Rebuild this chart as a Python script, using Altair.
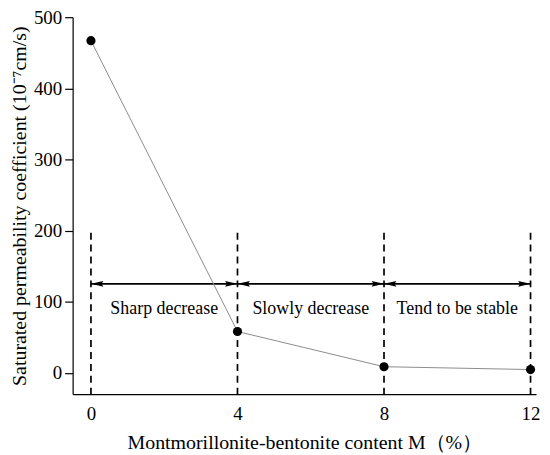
import altair as alt
import pandas as pd

# --- data ---
content = [0, 4, 8, 12]
permeability = [467, 58, 8.5, 4.5]

boundaries = [0, 4, 8, 12]
boundary_top = [197, 197, 197, 197]

stage_start = [0, 4, 8]
stage_end = [4, 8, 12]
stage_mid = [2, 6, 10]
stage_labels = ["Sharp decrease", "Slowly decrease", "Tend to be stable"]
arrow_y = [125, 125, 125]
label_y = [90, 90, 90]

x_ticks = [0, 4, 8, 12]
y_ticks = [0, 100, 200, 300, 400, 500]

W, H = 466, 379
FONT = "Liberation Serif"

df = pd.DataFrame({"M": content, "k": permeability})
df_b = pd.DataFrame({"M": boundaries, "top": boundary_top})
df_s = pd.DataFrame({"start": stage_start, "end": stage_end, "mid": stage_mid,
                     "label": stage_labels, "ay": arrow_y, "ly": label_y})

xscale = alt.Scale(domain=[-0.5, 12.15], nice=False, zero=False)
yscale = alt.Scale(domain=[-30, 500], nice=False, zero=False)

xaxis = alt.Axis(values=x_ticks, title="Montmorillonite-bentonite content M（%）",
                 ticks=False, tickSize=0, grid=False, labelPadding=11, titlePadding=9,
                 titleFontSize=20)
yaxis = alt.Axis(values=y_ticks, title="Saturated permeability coefficient (10⁻⁷cm/s)",
                 grid=False, tickSize=8, labelPadding=3, titlePadding=4,
                 titleFontSize=20)

base = alt.Chart(df)

line = base.mark_line(color="#8c8c8c", strokeWidth=1).encode(
    x=alt.X("M:Q", scale=xscale, axis=xaxis),
    y=alt.Y("k:Q", scale=yscale, axis=yaxis),
)
pts = base.mark_point(filled=True, color="black", size=85, opacity=1).encode(
    x=alt.X("M:Q", scale=xscale),
    y=alt.Y("k:Q", scale=yscale),
)

dashes = alt.Chart(df_b).mark_rule(color="black", strokeWidth=1.7, strokeDash=[7, 5]).encode(
    x=alt.X("M:Q", scale=xscale),
    y=alt.Y("top:Q", scale=yscale),
    y2=alt.value(H),
)

shaft = alt.Chart(df_s).mark_rule(color="black", strokeWidth=1.7).encode(
    x=alt.X("start:Q", scale=xscale),
    x2="end:Q",
    y=alt.Y("ay:Q", scale=yscale),
)
head_left = alt.Chart(df_s).mark_point(
    shape="M0,0L1,-0.24L0.85,0L1,0.24Z", filled=True, color="black", size=625, opacity=1, strokeWidth=0
).encode(
    x=alt.X("start:Q", scale=xscale),
    y=alt.Y("ay:Q", scale=yscale),
)
head_right = alt.Chart(df_s).mark_point(
    shape="M0,0L-1,-0.24L-0.85,0L-1,0.24Z", filled=True, color="black", size=625, opacity=1, strokeWidth=0
).encode(
    x=alt.X("end:Q", scale=xscale),
    y=alt.Y("ay:Q", scale=yscale),
)
labels = alt.Chart(df_s).mark_text(font=FONT, fontSize=18, color="black").encode(
    x=alt.X("mid:Q", scale=xscale),
    y=alt.Y("ly:Q", scale=yscale),
    text="label:N",
)

chart = alt.layer(dashes, shaft, head_left, head_right, labels, line, pts).properties(
    width=W, height=H, background="white",
    autosize=alt.AutoSizeParams(type="none"),
    padding={"left": 65, "top": 8, "right": 6, "bottom": 60}
).configure_view(stroke=None).configure_axis(
    domainColor="black", domainWidth=1.2, tickColor="black", tickWidth=1.2,
    labelFont=FONT, labelFontSize=19, labelColor="black",
    titleFont=FONT, titleColor="black", titleFontWeight="normal",
)

chart.save("out.html", embed_options={"renderer": "svg", "actions": False})
